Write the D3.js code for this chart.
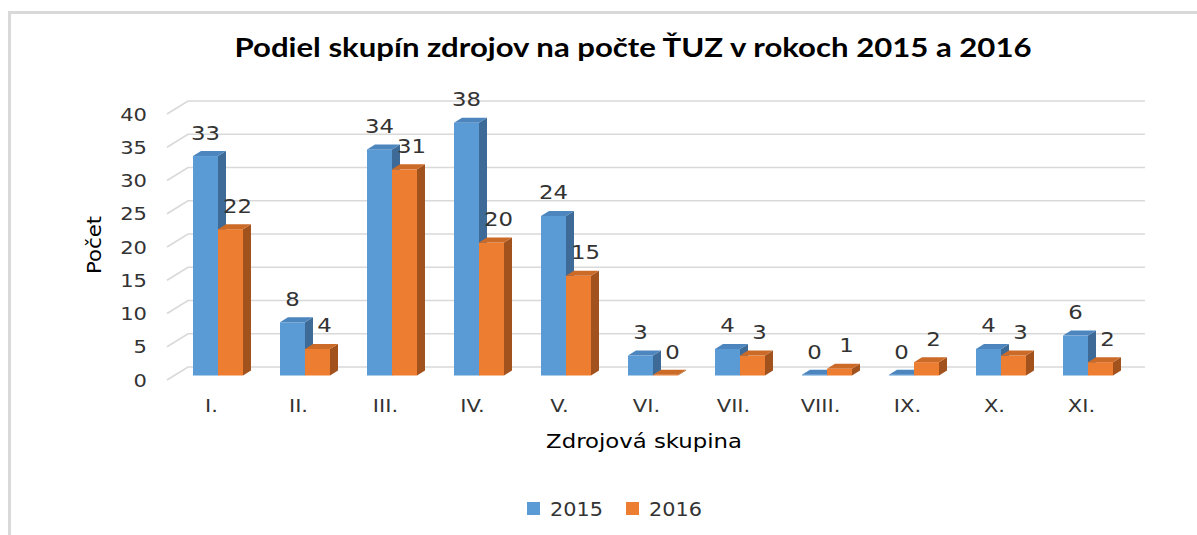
<!DOCTYPE html>
<html><head><meta charset="utf-8">
<script src="https://cdn.jsdelivr.net/npm/d3@7"></script>
<style>html,body{margin:0;padding:0;background:#fff;}svg{display:block;}</style>
</head><body>
<svg id="chart" width="1197" height="535"></svg>
<script>
const categories = ["I.","II.","III.","IV.","V.","VI.","VII.","VIII.","IX.","X.","XI."];
const seriesNames = ["2015","2016"];
const values2015 = [33,8,34,38,24,3,4,0,0,4,6];
const values2016 = [22,4,31,20,15,0,3,1,2,3,2];
const yTicks = [0,5,10,15,20,25,30,35,40];
const titleText = "Podiel skupín zdrojov na počte ŤUZ v rokoch 2015 a 2016";
const yTitle = "Počet";
const xTitle = "Zdrojová skupina";

const colors = [
  {front:"#5B9BD5", side:"#3D6A96", top:"#4D86BF"},
  {front:"#ED7D31", side:"#A2521D", top:"#CC6A27"}
];
const data = [values2015, values2016];

const svg = d3.select("#chart");
const font = "'DejaVu Sans', Verdana, sans-serif";
const textCol = "#333333";

function label(parent, px, py, txt, size, anchor, sx, fill, rot) {
  return parent.append("text")
    .attr("transform", `translate(${px},${py})${rot ? ` rotate(${rot})` : ""} scale(${sx},1)`)
    .attr("text-anchor", anchor).attr("font-family", font).attr("font-size", size)
    .attr("fill", fill || textCol).text(txt);
}

// chart border
svg.append("path").attr("d","M9.5,535 L9.5,12.5 L1197,12.5")
  .attr("fill","none").attr("stroke","#d9d9d9").attr("stroke-width",3);

// title
svg.append("text").attr("x",633).attr("y",57).attr("text-anchor","middle")
  .attr("font-family","Lato, 'Open Sans', sans-serif").attr("font-weight","bold")
  .attr("font-size",26).attr("fill","#000")
  .attr("textLength",797).attr("lengthAdjust","spacingAndGlyphs")
  .text(titleText);

// scales (front plane)
const x = d3.scaleBand().domain(categories).range([167,1124]).padding(0);
const y = d3.scaleLinear().domain([0,40]).range([380,114]);
const wallDX = 21, wallDY = -13;   // depth of floor to back wall
const barDX = 7.5, barDY = -4.5;   // front face of bars
const bDX = 8, bDY = -5;           // bar depth
const inner = d3.scaleBand().domain(seriesNames).range([-25,25]).padding(0);

// gridlines
const grid = svg.append("g");
yTicks.forEach(t => {
  const yy = y(t);
  grid.append("path")
    .attr("d", `M${x.range()[0]},${yy} L${x.range()[0]+wallDX},${yy+wallDY} L${x.range()[1]+wallDX},${yy+wallDY}`)
    .attr("fill","none").attr("stroke","#d9d9d9").attr("stroke-width",1.6);
});

// y tick labels
const yl = svg.append("g");
yTicks.forEach(t => label(yl, 147, y(t)+6.5, t, 18, "end", 1.17));

// bars
const bars = svg.append("g");
categories.forEach((c,i) => {
  seriesNames.forEach((s,si) => {
    const v = data[si][i];
    const cx = x(c) + x.bandwidth()/2 + barDX;
    const x0 = cx + inner(s), w = inner.bandwidth();
    const base = y(0) + barDY;
    const top = y(v) + barDY - (v===0 ? 0.8 : 0);
    const col = colors[si];
    const g = bars.append("g");
    g.append("rect").attr("x",x0).attr("y",top).attr("width",w).attr("height",Math.max(base-top,0.8)).attr("fill",col.front);
    g.append("path").attr("d",`M${x0+w},${top} L${x0+w+bDX},${top+bDY} L${x0+w+bDX},${base+bDY} L${x0+w},${base} Z`).attr("fill",col.side);
    g.append("path").attr("d",`M${x0},${top} L${x0+bDX},${top+bDY} L${x0+w+bDX},${top+bDY} L${x0+w},${top} Z`).attr("fill",col.top);
    label(g, x0 + w/2 + (si===1?7:0), y(v)+barDY-16.5, v, 20, "middle", 1.14);
  });
});

// category labels
const cl = svg.append("g");
categories.forEach(c => label(cl, x(c)+x.bandwidth()/2+1, 412, c, 18, "middle", 1.17));

// axis titles
label(svg, 101, 245, yTitle, 19, "middle", 1.12, "#000", -90);
label(svg, 644, 448, xTitle, 19, "middle", 1.2, "#000");

// legend
const legend = svg.append("g");
const legX = [527,626];
seriesNames.forEach((s,si)=>{
  legend.append("rect").attr("x",legX[si]).attr("y",502).attr("width",13).attr("height",13).attr("fill",colors[si].front);
  label(legend, legX[si]+23, 516, s, 20, "start", 1.04);
});
</script>
</body></html>
